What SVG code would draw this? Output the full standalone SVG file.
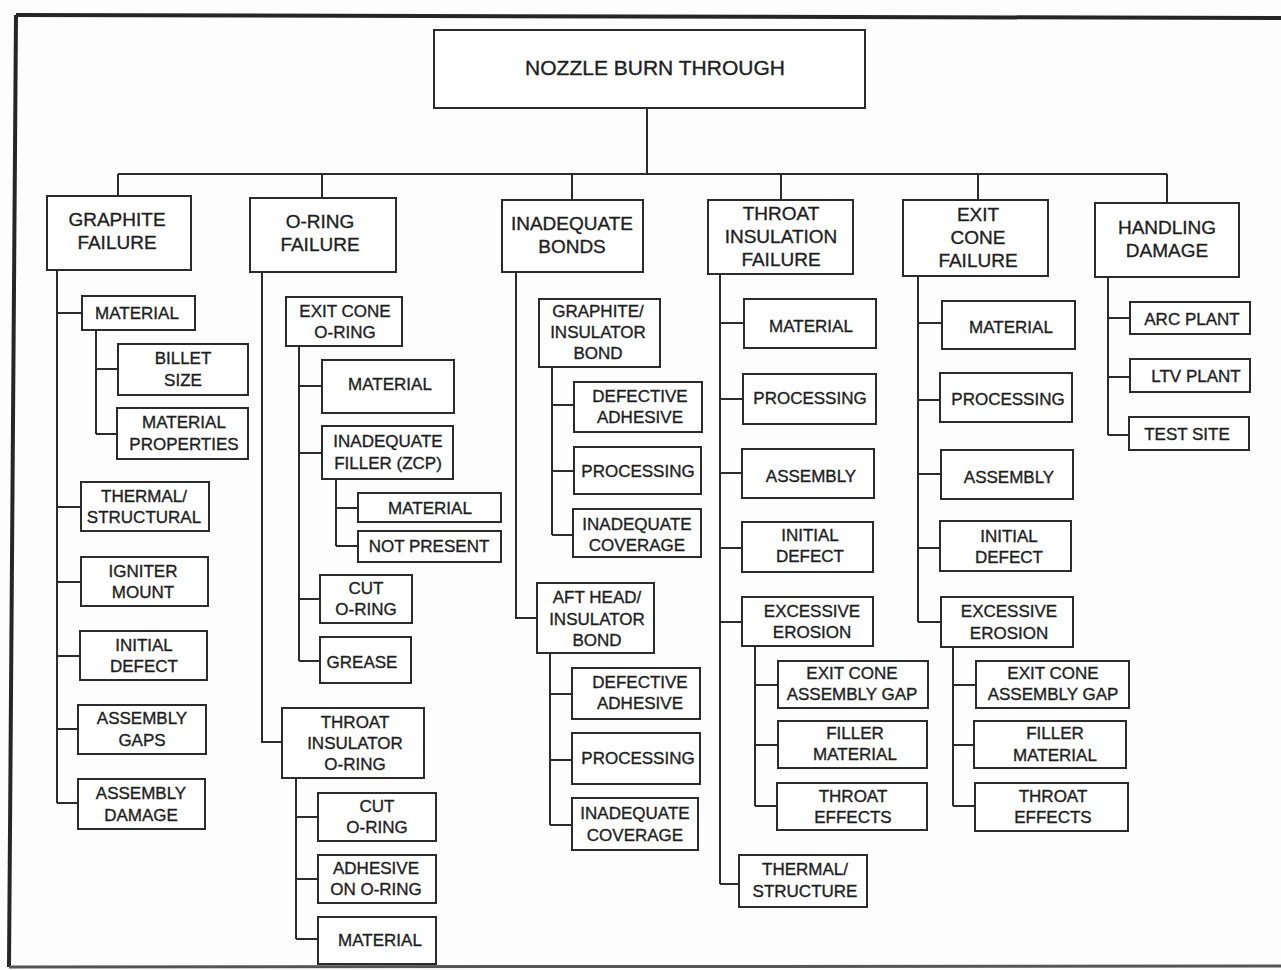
<svg xmlns="http://www.w3.org/2000/svg" width="1281" height="970" viewBox="0 0 1281 970">
<style>
.bg{fill:#fdfdfd}
.frame{fill:none;stroke:#262626;stroke-width:4}
.box{fill:#fff;stroke:#2b2b2b;stroke-width:2}
.c{fill:none;stroke:#2b2b2b;stroke-width:2}
text{font-family:"Liberation Sans",Arial,Helvetica,sans-serif;font-size:17px;text-anchor:middle;fill:#1e1e1e;stroke:#1e1e1e;stroke-width:0.35}
.t1{font-size:19px}
.t0{font-size:21px}
</style>
<rect class="bg" x="0" y="0" width="1281" height="970"/>
<g id="frame">
<path class="frame" d="M16,15 L1281,18"/>
<path class="frame" d="M16,15 L9,967"/>
<path d="M9,967 L1281,966" fill="none" stroke="#555" stroke-width="3"/>
</g>
<g id="connectors">
<path class="c" d="M647,108 V174 M118,174 H1167 M118,174 V196 M322,174 V198 M572,174 V200 M781,174 V200 M978,174 V200 M1167,174 V203"/>
<path class="c" d="M57,270 V803 M57,313 H82 M57,507 H81 M57,582 H81 M57,656 H80 M57,729 H78 M57,803 H78"/>
<path class="c" d="M96,330 V434 M96,369 H118 M96,434 H117"/>
<path class="c" d="M262,272 V742 H282"/>
<path class="c" d="M299,346 V661 M299,386 H322 M299,453 H322 M299,599 H320 M299,661 H320"/>
<path class="c" d="M336,479 V546 M336,508 H358 M336,546 H358"/>
<path class="c" d="M296,778 V939 M296,817 H318 M296,879 H318 M296,939 H318"/>
<path class="c" d="M516,272 V618 H537"/>
<path class="c" d="M552,367 V535 M552,405 H574 M552,471 H574 M552,535 H573"/>
<path class="c" d="M550,653 V825 M550,694 H572 M550,760 H572 M550,825 H572"/>
<path class="c" d="M720,274 V884 M720,323 H744 M720,399 H743 M720,473 H742 M720,548 H742 M720,622 H742 M720,884 H739"/>
<path class="c" d="M755,646 V806 M755,685 H778 M755,745 H778 M755,806 H777"/>
<path class="c" d="M918,276 V622 M918,323 H942 M918,400 H940 M918,474 H941 M918,548 H940 M918,622 H941"/>
<path class="c" d="M953,647 V806 M953,685 H976 M953,745 H974 M953,806 H975"/>
<path class="c" d="M1108,277 V435 M1108,318 H1130 M1108,377 H1130 M1108,435 H1129"/>
</g>
<g id="root"><rect class="box" x="434" y="30" width="431" height="78"/><text class="t0" x="655" y="75">NOZZLE BURN THROUGH</text></g>

<g id="graphite-failure"><rect class="box" x="47" y="196" width="144" height="74"/><text class="t1"><tspan x="117" y="226">GRAPHITE</tspan><tspan x="117" y="249">FAILURE</tspan></text></g>
<g id="oring-failure"><rect class="box" x="250" y="198" width="146" height="74"/><text class="t1"><tspan x="320" y="228">O-RING</tspan><tspan x="320" y="251">FAILURE</tspan></text></g>
<g id="inadequate-bonds"><rect class="box" x="502" y="200" width="141" height="72"/><text class="t1"><tspan x="572" y="230">INADEQUATE</tspan><tspan x="572" y="253">BONDS</tspan></text></g>
<g id="throat-insulation-failure"><rect class="box" x="708" y="200" width="145" height="74"/><text class="t1"><tspan x="781" y="220">THROAT</tspan><tspan x="781" y="243">INSULATION</tspan><tspan x="781" y="266">FAILURE</tspan></text></g>
<g id="exit-cone-failure"><rect class="box" x="903" y="200" width="145" height="76"/><text class="t1"><tspan x="978" y="221">EXIT</tspan><tspan x="978" y="244">CONE</tspan><tspan x="978" y="267">FAILURE</tspan></text></g>
<g id="handling-damage"><rect class="box" x="1095" y="203" width="144" height="74"/><text class="t1"><tspan x="1167" y="234">HANDLING</tspan><tspan x="1167" y="257">DAMAGE</tspan></text></g>

<g id="g-material"><rect class="box" x="82" y="296" width="113" height="34"/><text x="137" y="319">MATERIAL</text></g>
<g id="g-billet-size"><rect class="box" x="118" y="344" width="130" height="51"/><text><tspan x="183" y="364">BILLET</tspan><tspan x="183" y="386">SIZE</tspan></text></g>
<g id="g-material-properties"><rect class="box" x="117" y="408" width="131" height="51"/><text><tspan x="184" y="428">MATERIAL</tspan><tspan x="184" y="450">PROPERTIES</tspan></text></g>
<g id="g-thermal-structural"><rect class="box" x="81" y="482" width="128" height="49"/><text><tspan x="144" y="502">THERMAL/</tspan><tspan x="144" y="523">STRUCTURAL</tspan></text></g>
<g id="g-igniter-mount"><rect class="box" x="81" y="557" width="127" height="49"/><text><tspan x="143" y="577">IGNITER</tspan><tspan x="143" y="598">MOUNT</tspan></text></g>
<g id="g-initial-defect"><rect class="box" x="80" y="631" width="127" height="49"/><text><tspan x="144" y="651">INITIAL</tspan><tspan x="144" y="672">DEFECT</tspan></text></g>
<g id="g-assembly-gaps"><rect class="box" x="78" y="705" width="128" height="49"/><text><tspan x="142" y="724">ASSEMBLY</tspan><tspan x="142" y="746">GAPS</tspan></text></g>
<g id="g-assembly-damage"><rect class="box" x="78" y="779" width="127" height="50"/><text><tspan x="141" y="799">ASSEMBLY</tspan><tspan x="141" y="821">DAMAGE</tspan></text></g>

<g id="o-exit-cone-oring"><rect class="box" x="286" y="297" width="116" height="49"/><text><tspan x="345" y="317">EXIT CONE</tspan><tspan x="345" y="338">O-RING</tspan></text></g>
<g id="o-material"><rect class="box" x="322" y="360" width="132" height="53"/><text x="390" y="390">MATERIAL</text></g>
<g id="o-inadequate-filler"><rect class="box" x="322" y="426" width="131" height="53"/><text><tspan x="388" y="447">INADEQUATE</tspan><tspan x="388" y="469">FILLER (ZCP)</tspan></text></g>
<g id="o-filler-material"><rect class="box" x="358" y="493" width="143" height="29"/><text x="430" y="514">MATERIAL</text></g>
<g id="o-not-present"><rect class="box" x="358" y="531" width="143" height="31"/><text x="429" y="552">NOT PRESENT</text></g>
<g id="o-cut-oring"><rect class="box" x="320" y="575" width="92" height="48"/><text><tspan x="366" y="594">CUT</tspan><tspan x="366" y="615">O-RING</tspan></text></g>
<g id="o-grease"><rect class="box" x="320" y="637" width="91" height="46"/><text x="362" y="668">GREASE</text></g>
<g id="o-throat-insulator-oring"><rect class="box" x="282" y="708" width="142" height="70"/><text><tspan x="355" y="728">THROAT</tspan><tspan x="355" y="749">INSULATOR</tspan><tspan x="355" y="770">O-RING</tspan></text></g>
<g id="o-cut-oring-2"><rect class="box" x="318" y="793" width="118" height="48"/><text><tspan x="377" y="812">CUT</tspan><tspan x="377" y="833">O-RING</tspan></text></g>
<g id="o-adhesive-on-oring"><rect class="box" x="318" y="855" width="118" height="48"/><text><tspan x="376" y="874">ADHESIVE</tspan><tspan x="376" y="895">ON O-RING</tspan></text></g>
<g id="o-material-2"><rect class="box" x="318" y="917" width="118" height="47"/><text x="380" y="946">MATERIAL</text></g>

<g id="b-graphite-insulator-bond"><rect class="box" x="539" y="299" width="121" height="68"/><text><tspan x="598" y="317">GRAPHITE/</tspan><tspan x="598" y="338">INSULATOR</tspan><tspan x="598" y="359">BOND</tspan></text></g>
<g id="b-defective-adhesive"><rect class="box" x="574" y="382" width="128" height="50"/><text><tspan x="640" y="402">DEFECTIVE</tspan><tspan x="640" y="423">ADHESIVE</tspan></text></g>
<g id="b-processing"><rect class="box" x="574" y="447" width="127" height="47"/><text x="638" y="477">PROCESSING</text></g>
<g id="b-inadequate-coverage"><rect class="box" x="573" y="509" width="128" height="48"/><text><tspan x="637" y="530">INADEQUATE</tspan><tspan x="637" y="551">COVERAGE</tspan></text></g>
<g id="b-aft-head-insulator-bond"><rect class="box" x="537" y="583" width="117" height="70"/><text><tspan x="597" y="603">AFT HEAD/</tspan><tspan x="597" y="625">INSULATOR</tspan><tspan x="597" y="646">BOND</tspan></text></g>
<g id="b-defective-adhesive-2"><rect class="box" x="572" y="668" width="128" height="51"/><text><tspan x="640" y="688">DEFECTIVE</tspan><tspan x="640" y="709">ADHESIVE</tspan></text></g>
<g id="b-processing-2"><rect class="box" x="572" y="733" width="128" height="51"/><text x="638" y="764">PROCESSING</text></g>
<g id="b-inadequate-coverage-2"><rect class="box" x="572" y="798" width="126" height="52"/><text><tspan x="635" y="819">INADEQUATE</tspan><tspan x="635" y="841">COVERAGE</tspan></text></g>

<g id="t-material"><rect class="box" x="744" y="299" width="132" height="49"/><text x="811" y="332">MATERIAL</text></g>
<g id="t-processing"><rect class="box" x="743" y="374" width="133" height="50"/><text x="810" y="404">PROCESSING</text></g>
<g id="t-assembly"><rect class="box" x="742" y="449" width="132" height="49"/><text x="811" y="482">ASSEMBLY</text></g>
<g id="t-initial-defect"><rect class="box" x="742" y="522" width="131" height="50"/><text><tspan x="810" y="541">INITIAL</tspan><tspan x="810" y="562">DEFECT</tspan></text></g>
<g id="t-excessive-erosion"><rect class="box" x="742" y="597" width="131" height="49"/><text><tspan x="812" y="617">EXCESSIVE</tspan><tspan x="812" y="638">EROSION</tspan></text></g>
<g id="t-exit-cone-assembly-gap"><rect class="box" x="778" y="661" width="150" height="47"/><text><tspan x="852" y="679">EXIT CONE</tspan><tspan x="852" y="700">ASSEMBLY GAP</tspan></text></g>
<g id="t-filler-material"><rect class="box" x="778" y="721" width="149" height="47"/><text><tspan x="855" y="739">FILLER</tspan><tspan x="855" y="760">MATERIAL</tspan></text></g>
<g id="t-throat-effects"><rect class="box" x="777" y="783" width="150" height="47"/><text><tspan x="853" y="802">THROAT</tspan><tspan x="853" y="823">EFFECTS</tspan></text></g>
<g id="t-thermal-structure"><rect class="box" x="739" y="855" width="128" height="52"/><text><tspan x="805" y="875">THERMAL/</tspan><tspan x="805" y="897">STRUCTURE</tspan></text></g>

<g id="e-material"><rect class="box" x="942" y="301" width="133" height="48"/><text x="1011" y="333">MATERIAL</text></g>
<g id="e-processing"><rect class="box" x="940" y="373" width="132" height="49"/><text x="1008" y="405">PROCESSING</text></g>
<g id="e-assembly"><rect class="box" x="941" y="450" width="132" height="49"/><text x="1009" y="483">ASSEMBLY</text></g>
<g id="e-initial-defect"><rect class="box" x="940" y="521" width="131" height="50"/><text><tspan x="1009" y="542">INITIAL</tspan><tspan x="1009" y="563">DEFECT</tspan></text></g>
<g id="e-excessive-erosion"><rect class="box" x="941" y="597" width="132" height="50"/><text><tspan x="1009" y="617">EXCESSIVE</tspan><tspan x="1009" y="639">EROSION</tspan></text></g>
<g id="e-exit-cone-assembly-gap"><rect class="box" x="976" y="661" width="153" height="47"/><text><tspan x="1053" y="679">EXIT CONE</tspan><tspan x="1053" y="700">ASSEMBLY GAP</tspan></text></g>
<g id="e-filler-material"><rect class="box" x="974" y="721" width="152" height="47"/><text><tspan x="1055" y="739">FILLER</tspan><tspan x="1055" y="761">MATERIAL</tspan></text></g>
<g id="e-throat-effects"><rect class="box" x="975" y="783" width="153" height="48"/><text><tspan x="1053" y="802">THROAT</tspan><tspan x="1053" y="823">EFFECTS</tspan></text></g>

<g id="h-arc-plant"><rect class="box" x="1130" y="302" width="120" height="32"/><text x="1192" y="325">ARC PLANT</text></g>
<g id="h-ltv-plant"><rect class="box" x="1130" y="359" width="120" height="33"/><text x="1196" y="382">LTV PLANT</text></g>
<g id="h-test-site"><rect class="box" x="1129" y="417" width="120" height="33"/><text x="1187" y="440">TEST SITE</text></g>
</svg>
